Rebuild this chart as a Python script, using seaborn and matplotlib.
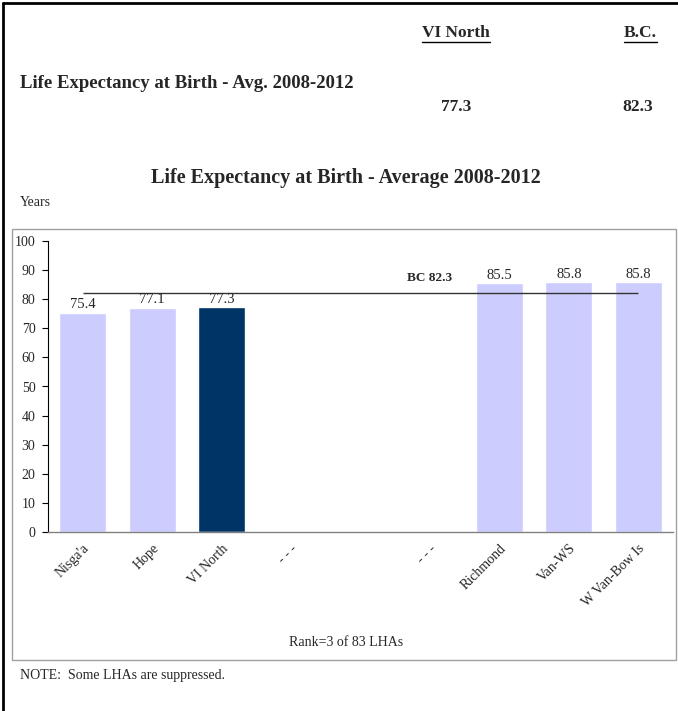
import matplotlib
matplotlib.use("Agg")
import matplotlib.pyplot as plt
import seaborn as sns
import pandas as pd
from matplotlib.patches import Rectangle
from matplotlib.lines import Line2D

# ---- data ----
categories = ["Nisga'a", "Hope", "VI North", "Richmond", "Van-WS", "W Van-Bow Is"]
values = [75.4, 77.1, 77.3, 85.5, 85.8, 85.8]
order = ["Nisga'a", "Hope", "VI North", "gap1", "gap2", "gap3", "Richmond", "Van-WS", "W Van-Bow Is"]
tick_labels = ["Nisga'a", "Hope", "VI North", "- - -", "", "- - -", "Richmond", "Van-WS", "W Van-Bow Is"]
bc_value = 82.3
header_region = "VI North"
header_region_value = 77.3
header_bc_value = 82.3

light = "#CCCCFF"
dark = "#003366"
palette = {c: (dark if c == "VI North" else light) for c in categories}

sns.set_theme(style="white")
plt.rcParams["font.family"] = ["Liberation Serif", "DejaVu Serif"]

fig = plt.figure(figsize=(6.78, 7.11), dpi=100)
W, H = 678, 711

def fx(px):
    return px / W

def fy(py):
    return 1 - py / H

# page borders (top and left)
fig.add_artist(Line2D([fx(3), fx(678)], [fy(3), fy(3)], color="black", lw=2))
fig.add_artist(Line2D([fx(3), fx(3)], [fy(3), fy(711)], color="black", lw=2))

# header table
t1 = fig.text(fx(456), fy(33), header_region, ha="center", va="center", fontsize=12.5, fontweight="bold")
t2 = fig.text(fx(640), fy(33), "B.C.", ha="center", va="center", fontsize=12.5, fontweight="bold")
fig.text(fx(20), fy(83), "Life Expectancy at Birth - Avg. 2008-2012", ha="left", va="center",
         fontsize=13.5, fontweight="bold")
fig.text(fx(456), fy(107), f"{header_region_value:.1f}", ha="center", va="center", fontsize=12.5, fontweight="bold")
fig.text(fx(638), fy(107), f"{header_bc_value:.1f}", ha="center", va="center", fontsize=12.5, fontweight="bold")

# chart title etc.
fig.text(fx(346), fy(178), "Life Expectancy at Birth - Average 2008-2012", ha="center", va="center",
         fontsize=14.5, fontweight="bold")
fig.text(fx(20), fy(203), "Years", ha="left", va="center", fontsize=10)
fig.text(fx(346), fy(642), "Rank=3 of 83 LHAs", ha="center", va="center", fontsize=10)
fig.text(fx(20), fy(676), "NOTE:  Some LHAs are suppressed.", ha="left", va="center", fontsize=10)

# chart box
fig.add_artist(Rectangle((fx(12), fy(660)), fx(676) - fx(12), fy(229) - fy(660),
                         fill=False, edgecolor="#A0A0A0", lw=1, transform=fig.transFigure))

ax = fig.add_axes([fx(48), fy(532), fx(673) - fx(48), fy(241) - fy(532)])
df = pd.DataFrame({"cat": categories, "value": values})
sns.barplot(data=df, x="cat", y="value", hue="cat", order=order, hue_order=categories,
            palette=palette, width=0.68, legend=False, ax=ax, saturation=1)

for cont in ax.containers:
    ax.bar_label(cont, fmt="%.1f", padding=1, fontsize=10.5)

ax.hlines(bc_value, 0, len(order) - 1, color="#333333", lw=1)
ax.text(5, 85.2, f"BC {bc_value}", ha="center", va="bottom", fontsize=9.5, fontweight="bold")

ax.set_ylim(0, 100)
ax.set_xlim(-0.5, len(order) - 0.5)
ax.set_yticks(range(0, 101, 10))
ax.set_xticks(range(len(order)))
ax.set_xticklabels(tick_labels, rotation=45, ha="right", rotation_mode="anchor", fontsize=10)
ax.tick_params(axis="y", labelsize=10, length=4, width=0.8, direction="out", left=True, color="black", pad=5)
ax.tick_params(axis="x", length=0, pad=7)
ax.set_xlabel("")
ax.set_ylabel("")
for s in ["top", "right"]:
    ax.spines[s].set_visible(False)
ax.spines["left"].set_color("black")
ax.spines["left"].set_linewidth(0.8)
ax.spines["bottom"].set_color("#808080")
ax.spines["bottom"].set_linewidth(1)
ax.set_facecolor("white")

# underline header labels
fig.canvas.draw()
r = fig.canvas.get_renderer()
for t in (t1, t2):
    bb = t.get_window_extent(r).transformed(fig.transFigure.inverted())
    fig.add_artist(Line2D([bb.x0, bb.x1], [bb.y0 - 0.002, bb.y0 - 0.002], color="black", lw=1))

fig.savefig("out.png", dpi=100)
